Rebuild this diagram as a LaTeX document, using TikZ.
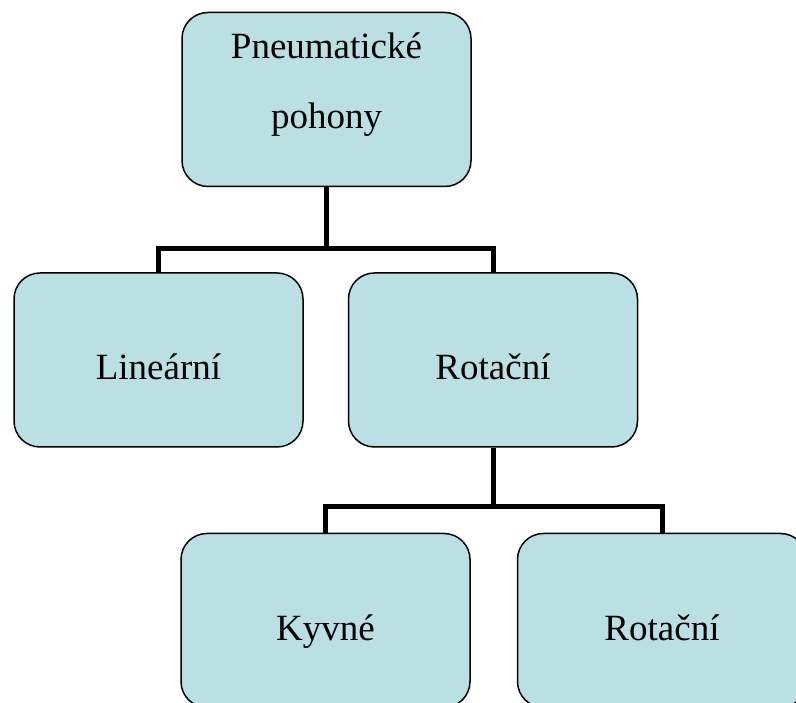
\documentclass[tikz,border=0pt]{standalone}
\usepackage{fontspec}
\setmainfont{Liberation Serif}
\usetikzlibrary{calc}
\definecolor{boxfill}{RGB}{186,224,227}
\tikzset{
  box/.style={draw=black, line width=1.5pt, fill=boxfill, rounded corners=26pt,
    minimum width=289pt, minimum height=174pt, inner sep=0pt,
    font=\fontsize{37}{70}\selectfont, text height=40pt, text depth=0pt},
  conn/.style={line width=5pt}
}

\begin{document}
\begin{tikzpicture}[x=1pt,y=1pt]
    \useasboundingbox (0,0) rectangle (796,703);
    % boxes
    \node[box, label={[font=\fontsize{37}{70}\selectfont, align=center, yshift=15pt]center:Pneumatické\\pohony}] (top) at (326.5,603.5) {};
    \node[box] (lin) at (158.5,343) {Lineární};
    \node[box] (rot) at (493,343) {Rotační};
    \node[box] (kyv) at (325.5,82.5) {Kyvné};
    \node[box] (rotb) at (662,82.5) {Rotační};
    % connectors
    \coordinate (j1) at ($(top.south)+(0,-61)$);
    \coordinate (j2) at ($(rot.south)+(0,-59)$);
    \draw[conn] (top.south) -- (j1);
    \draw[conn] (lin.north) |- (j1) -| (rot.north);
    \draw[conn] (rot.south) -- (j2);
    \draw[conn] (kyv.north) |- (j2) -| (rotb.north);
\end{tikzpicture}
\end{document}
